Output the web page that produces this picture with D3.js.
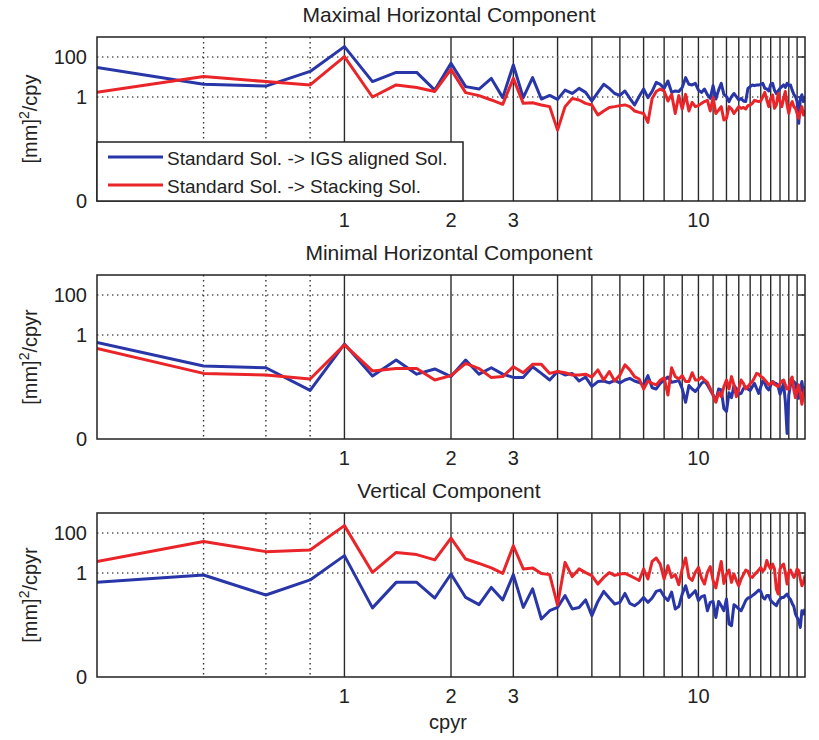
<!DOCTYPE html>
<html>
<head>
<meta charset="utf-8">
<script src="https://cdn.jsdelivr.net/npm/d3@7"></script>
<style>
  body { margin: 0; background: #fff; }
  text { font-family: "Liberation Sans", Arial, Helvetica, sans-serif; fill: #222; }
</style>
</head>
<body>
<svg id="chart" width="819" height="740"></svg>
<script>
// Frequencies of the spectral estimates (cycles per year)
const freqs = [
  0.2, 0.4, 0.6, 0.8, 1.0, 1.2, 1.4, 1.6, 1.8, 2.0,
  2.2, 2.4, 2.6, 2.8, 3.0, 3.2, 3.4, 3.6, 3.8, 4.0,
  4.2, 4.4, 4.6, 4.8, 5.0, 5.2, 5.4, 5.6, 5.8, 6.0,
  6.2, 6.4, 6.6, 6.8, 7.0, 7.2, 7.4, 7.6, 7.8, 8.0,
  8.2, 8.4, 8.6, 8.8, 9.0, 9.2, 9.4, 9.6, 9.8, 10.0,
  10.2, 10.4, 10.6, 10.8, 11.0, 11.2, 11.4, 11.6, 11.8, 12.0,
  12.2, 12.4, 12.6, 12.8, 13.0, 13.2, 13.4, 13.6, 13.8, 14.0,
  14.2, 14.4, 14.6, 14.8, 15.0, 15.2, 15.4, 15.6, 15.8, 16.0,
  16.2, 16.4, 16.6, 16.8, 17.0, 17.2, 17.4, 17.6, 17.8, 18.0,
  18.2, 18.4, 18.6, 18.8, 19.0, 19.2, 19.4, 19.6, 19.8, 20.0
];

// Power spectra, [mm]^2/cpyr
const maxIgs = [
  30, 4.3, 3.5, 19, 330, 5.9, 17, 17, 2.2, 48,
  3.3, 2.5, 8.5, 0.93, 40, 0.93, 9.3, 0.79, 1.2, 0.76,
  2.2, 1.5, 2.7, 1.7, 0.63, 1.7, 4.3, 2.7, 1.5, 1.2,
  2.0, 0.85, 0.4, 1.05, 2.5, 0.93, 1.9, 5.4, 4.3, 2.7,
  6.3, 1.7, 2.0, 1.9, 3.0, 9.3, 4.3, 4.0, 4.8, 2.2,
  1.7, 2.5, 1.3, 0.85, 3.7, 0.79, 2.2, 4.8, 1.35, 1.05,
  0.59, 1.05, 1.5, 1.05, 0.71, 0.85, 0.63, 0.59, 2.7, 3.3,
  4.0, 3.7, 4.0, 4.0, 4.3, 4.8, 2.7, 2.5, 2.0, 4.3,
  4.8, 2.2, 1.5, 2.0, 2.7, 3.3, 4.0, 3.0, 4.8, 3.7,
  4.0, 2.2, 1.35, 1.05, 0.59, 0.048, 0.85, 1.3, 0.59, 1.05
];
const maxStack = [
  1.7, 10.5, 5.9, 4.0, 105, 1.0, 4.0, 3.0, 1.9, 24,
  1.66, 1.17, 0.71, 0.43, 8.5, 0.48, 0.52, 0.4, 0.33, 0.022,
  0.33, 0.85, 0.71, 0.48, 0.4, 0.126, 0.2, 0.3, 0.33, 0.37,
  0.4, 0.33, 0.2, 0.17, 0.15, 0.054, 0.85, 1.9, 2.5, 2.0,
  0.63, 1.35, 0.15, 1.17, 0.25, 1.35, 0.2, 0.54, 0.33, 0.37,
  0.48, 0.59, 0.68, 0.2, 0.93, 0.15, 0.22, 0.33, 0.071, 0.085,
  0.33, 0.25, 0.15, 0.22, 0.33, 0.27, 0.3, 0.25, 0.37, 0.4,
  0.48, 0.68, 0.63, 0.59, 0.63, 1.05, 1.7, 0.71, 0.33, 0.85,
  1.26, 0.27, 0.4, 1.48, 0.59, 0.33, 0.85, 1.9, 0.4, 0.15,
  0.4, 0.59, 0.33, 0.27, 0.15, 0.085, 0.19, 0.33, 0.126, 0.22
];
const minIgs = [
  0.42, 0.028, 0.023, 0.0017, 0.35, 0.0089, 0.056, 0.011, 0.02, 0.0083,
  0.056, 0.011, 0.023, 0.011, 0.0076, 0.0076, 0.026, 0.012, 0.0056, 0.015,
  0.01, 0.012, 0.005, 0.0079, 0.0027, 0.0047, 0.005, 0.004, 0.0054, 0.004,
  0.0056, 0.0068, 0.005, 0.0042, 0.0032, 0.0093, 0.0023, 0.002, 0.0038, 0.0056,
  0.0079, 0.0043, 0.0047, 0.0054, 0.0021, 0.00043, 0.003, 0.002, 0.0015, 0.0023,
  0.0038, 0.005, 0.0032, 0.0018, 0.001, 0.0005, 0.002, 0.0018, 0.00021, 0.00015,
  0.0013, 0.00074, 0.003, 0.002, 0.0011, 0.0012, 0.0021, 0.0026, 0.002, 0.0017,
  0.0026, 0.0038, 0.0021, 0.0012, 0.0026, 0.005, 0.0038, 0.0023, 0.0018, 0.003,
  0.0047, 0.004, 0.0037, 0.0026, 0.0011, 0.002, 0.0038, 0.00047, 0.000012, 0.001,
  0.0032, 0.0034, 0.0047, 0.0038, 0.0015, 0.00068, 0.0018, 0.0047, 0.0012, 0.0026
];
const minStack = [
  0.21, 0.012, 0.01, 0.0063, 0.32, 0.016, 0.021, 0.021, 0.0056, 0.0093,
  0.038, 0.021, 0.0074, 0.0083, 0.026, 0.013, 0.034, 0.034, 0.012, 0.015,
  0.013, 0.01, 0.01, 0.011, 0.0079, 0.018, 0.0056, 0.015, 0.005, 0.01,
  0.032, 0.018, 0.0083, 0.0063, 0.002, 0.005, 0.0038, 0.0032, 0.0054, 0.0074,
  0.001, 0.023, 0.0083, 0.0063, 0.0093, 0.0047, 0.0047, 0.013, 0.0056, 0.0056,
  0.0079, 0.0056, 0.0043, 0.0021, 0.001, 0.00043, 0.0013, 0.00083, 0.0026, 0.0056,
  0.002, 0.0083, 0.0032, 0.00083, 0.002, 0.0056, 0.0038, 0.002, 0.0026, 0.0037,
  0.0047, 0.0074, 0.012, 0.011, 0.0083, 0.0074, 0.0056, 0.0043, 0.0032, 0.0038,
  0.0047, 0.0034, 0.003, 0.0026, 0.0038, 0.005, 0.0056, 0.0032, 0.002, 0.002,
  0.0056, 0.0079, 0.0018, 0.00074, 0.0018, 0.0032, 0.0012, 0.00034, 0.001, 0.0021
];
const vertIgs = [
  0.34, 0.79, 0.079, 0.45, 7.4, 0.018, 0.34, 0.34, 0.056, 0.89,
  0.06, 0.026, 0.19, 0.045, 0.83, 0.019, 0.16, 0.005, 0.013, 0.019,
  0.074, 0.016, 0.019, 0.045, 0.0074, 0.038, 0.12, 0.056, 0.028, 0.034,
  0.095, 0.03, 0.023, 0.034, 0.06, 0.034, 0.056, 0.12, 0.14, 0.066,
  0.042, 0.11, 0.016, 0.021, 0.089, 0.23, 0.06, 0.089, 0.13, 0.042,
  0.066, 0.074, 0.013, 0.034, 0.038, 0.006, 0.038, 0.023, 0.013, 0.05,
  0.0028, 0.0023, 0.026, 0.021, 0.016, 0.013, 0.023, 0.042, 0.056, 0.06,
  0.074, 0.089, 0.11, 0.14, 0.12, 0.06, 0.05, 0.074, 0.074, 0.042,
  0.034, 0.028, 0.023, 0.038, 0.05, 0.06, 0.06, 0.074, 0.089, 0.06,
  0.048, 0.03, 0.021, 0.0089, 0.006, 0.0042, 0.0019, 0.013, 0.0089, 0.016
];
const vertStack = [
  3.7, 38, 11.7, 14, 234, 1.07, 10.7, 8.3, 4.5, 56,
  5.0, 3.0, 1.8, 0.95, 23, 1.6, 1.8, 0.95, 0.83, 0.025,
  3.4, 0.66, 1.6, 1.05, 0.74, 0.28, 0.6, 1.05, 0.76, 0.89,
  0.95, 0.74, 0.56, 0.42, 1.6, 0.5, 3.8, 5.6, 2.8, 0.5,
  2.3, 0.6, 0.83, 0.26, 1.6, 5.6, 0.6, 0.42, 1.07, 1.9,
  0.56, 0.28, 1.07, 2.1, 0.42, 0.18, 0.89, 3.8, 0.3, 0.89,
  1.4, 0.34, 0.89, 0.42, 0.23, 0.5, 0.83, 1.4, 1.2, 0.66,
  0.6, 0.83, 1.07, 1.4, 1.9, 1.2, 1.6, 4.2, 2.3, 1.6,
  2.8, 1.6, 0.16, 0.089, 1.6, 2.3, 2.8, 1.07, 0.28, 1.07,
  1.4, 0.89, 0.6, 0.83, 1.6, 1.3, 0.5, 0.23, 0.34, 0.74
];

// Axis ticks and grid
const xTickValues = [1, 2, 3, 10];
const xSolidGrid = [1, 2, 3, 4, 5, 6, 7, 8, 9, 10, 11, 12, 13, 14, 15, 16, 17, 18, 19];
const xDottedGrid = [0.4, 0.6, 0.8];
const xDomain = [0.2, 20];
const yDomain = [6.3e-6, 1000];
const yTickValues = [6.3e-6, 1, 100];
const yTickLabels = ["0", "1", "100"];

const panelTitles = ["Maximal Horizontal Component", "Minimal Horizontal Component", "Vertical Component"];
const panelUnits = ["/cpy", "/cpyr", "/cpyr"];
const legendLabels = ["Standard Sol. -> IGS aligned Sol.", "Standard Sol. -> Stacking Sol."];

const seriesColors = ["#2936a8", "#ea2529"];
const panelSeries = [[maxIgs, maxStack], [minIgs, minStack], [vertIgs, vertStack]];

const svg = d3.select("#chart");
const left = 97, right = 805, panelH = 164;
const panelTops = [37, 275, 513];
const FS = 20, TITLE_FS = 21, LEGEND_FS = 19;
const LW = 3;

const x = d3.scaleLog().domain(xDomain).range([left, right]);

panelTops.forEach((top, p) => {
  const bottom = top + panelH;
  const y = d3.scaleLog().domain(yDomain).range([bottom, top]);
  const g = svg.append("g");

  // white plotting area
  g.append("rect").attr("x", left).attr("y", top).attr("width", right - left).attr("height", panelH)
    .attr("fill", "#fff");

  // vertical grid: solid at whole cycles, dotted below one cycle per year
  g.selectAll(".vs").data(xSolidGrid).join("line")
    .attr("x1", d => x(d)).attr("x2", d => x(d)).attr("y1", top).attr("y2", bottom)
    .attr("stroke", "#2a2a2a").attr("stroke-width", 1.4);
  g.selectAll(".vd").data(xDottedGrid).join("line")
    .attr("x1", d => x(d)).attr("x2", d => x(d)).attr("y1", top).attr("y2", bottom)
    .attr("stroke", "#333").attr("stroke-width", 1.4).attr("stroke-dasharray", "1.4,3.6");

  // horizontal dotted grid at 1 and 100
  g.selectAll(".hd").data(yTickValues.slice(1)).join("line")
    .attr("x1", left).attr("x2", right).attr("y1", d => y(d)).attr("y2", d => y(d))
    .attr("stroke", "#555").attr("stroke-width", 1.4).attr("stroke-dasharray", "1.4,3.6");

  // inward tick marks on the right edge
  g.selectAll(".rt").data(yTickValues.slice(1)).join("line")
    .attr("x1", right - 7).attr("x2", right).attr("y1", d => y(d)).attr("y2", d => y(d))
    .attr("stroke", "#222").attr("stroke-width", 1.4);

  // spectra
  const clipId = "clip" + p;
  svg.append("clipPath").attr("id", clipId).append("rect")
    .attr("x", left).attr("y", top).attr("width", right - left).attr("height", panelH);
  const line = d3.line().x((d, i) => x(freqs[i])).y(d => y(d));
  panelSeries[p].forEach((vals, s) => {
    g.append("path").datum(vals)
      .attr("clip-path", `url(#${clipId})`)
      .attr("fill", "none").attr("stroke", seriesColors[s]).attr("stroke-width", LW)
      .attr("stroke-linejoin", "round").attr("d", line);
  });

  // frame
  g.append("rect").attr("x", left).attr("y", top).attr("width", right - left).attr("height", panelH)
    .attr("fill", "none").attr("stroke", "#222").attr("stroke-width", 1.5);

  // y tick labels
  g.selectAll(".yl").data(yTickValues).join("text")
    .attr("x", left - 10).attr("y", d => y(d)).attr("dy", "0.36em")
    .attr("text-anchor", "end").attr("font-size", FS)
    .text((d, i) => yTickLabels[i]);

  // x tick labels
  g.selectAll(".xl").data(xTickValues).join("text")
    .attr("x", d => x(d)).attr("y", bottom + 26)
    .attr("text-anchor", "middle").attr("font-size", FS)
    .text(d => d);

  // title
  g.append("text").attr("x", (left + right) / 2 - 2).attr("y", top - 15)
    .attr("text-anchor", "middle").attr("font-size", TITLE_FS)
    .text(panelTitles[p]);

  // y axis label
  const yl = g.append("text")
    .attr("transform", `translate(37,${(top + bottom) / 2}) rotate(-90)`)
    .attr("text-anchor", "middle").attr("font-size", FS);
  yl.append("tspan").text("[mm]");
  yl.append("tspan").attr("font-size", FS * 0.7).attr("dy", -8).text("2");
  yl.append("tspan").attr("dy", 8).text(panelUnits[p]);

  // legend in the first panel
  if (p === 0) {
    const lg = g.append("g");
    lg.append("rect").attr("x", left).attr("y", 142).attr("width", 366).attr("height", bottom - 142)
      .attr("fill", "#fff").attr("stroke", "#222").attr("stroke-width", 1.5);
    legendLabels.forEach((lab, i) => {
      const ly = 157 + i * 28;
      lg.append("line").attr("x1", 108).attr("x2", 163).attr("y1", ly).attr("y2", ly)
        .attr("stroke", seriesColors[i]).attr("stroke-width", LW);
      lg.append("text").attr("x", 167).attr("y", ly + 8).attr("font-size", LEGEND_FS).text(lab);
    });
  }
});

// x axis label
svg.append("text").attr("x", (left + right) / 2 - 3).attr("y", 729)
  .attr("text-anchor", "middle").attr("font-size", FS).text("cpyr");
</script>
</body>
</html>
